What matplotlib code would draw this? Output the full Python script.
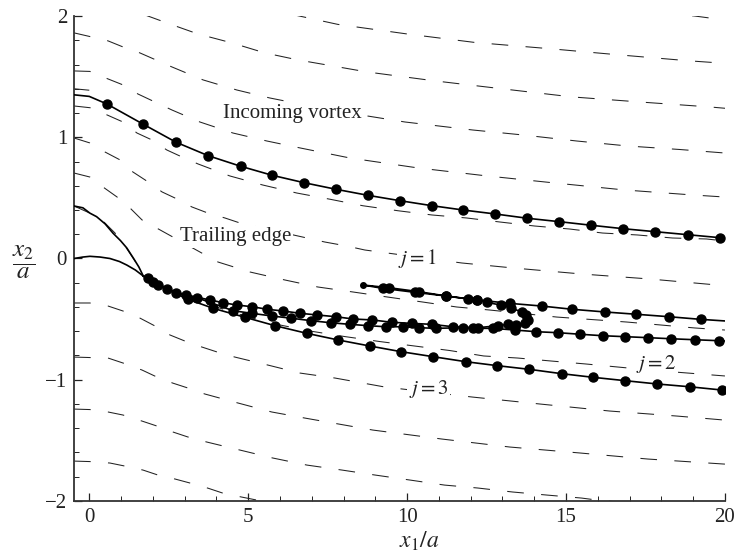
import matplotlib.pyplot as plt
from matplotlib.ticker import MultipleLocator

plt.rcParams['font.family'] = ['Liberation Serif', 'DejaVu Serif']
plt.rcParams['mathtext.fontset'] = 'stix'
plt.rcParams['lines.scale_dashes'] = False

# dashed streamlines (x1/a, x2/a)
s01_x = [17.9, 19.05, 20.05]
s01_y = [2.03, 2.0, 1.965]
s02_x = [6.31, 7.82, 10.0, 12.13, 14.55, 16.69, 18.89, 20.05]
s02_y = [2.017, 1.931, 1.852, 1.782, 1.729, 1.679, 1.630, 1.609]
s03_x = [1.75, 2.44, 3.42, 4.49, 5.52, 6.56, 7.66, 8.73, 10.87, 13.01, 15.18, 17.32, 19.52, 20.05]
s03_y = [2.009, 1.943, 1.852, 1.778, 1.696, 1.638, 1.588, 1.539, 1.465, 1.399, 1.333, 1.291, 1.250, 1.238]
s04_x = [-0.48, 0.08, 0.59, 1.06, 1.59, 2.60, 3.58, 4.64, 5.68, 7.57, 9.93, 12.06, 13.64, 15.34, 16.94, 18.58, 20.0]
s04_y = [1.861, 1.827, 1.795, 1.745, 1.696, 1.580, 1.473, 1.390, 1.324, 1.225, 1.126, 1.060, 1.019, 0.969, 0.928, 0.899, 0.870]
s05_x = [-0.48, 0.02, 0.59, 1.06, 1.53, 2.00, 2.60, 3.48, 4.52, 5.59, 6.63, 8.20, 10.34, 12.51, 14.64, 16.85, 18.98, 20.0]
s05_y = [1.547, 1.543, 1.481, 1.432, 1.357, 1.299, 1.225, 1.126, 1.035, 0.969, 0.912, 0.829, 0.747, 0.681, 0.623, 0.565, 0.524, 0.507]
s06_x = [-0.48, 0.0]
s06_y = [1.40, 1.388]
s07_x = [-0.48, 0.08, 0.56, 1.06, 1.50, 1.97, 2.44, 2.92, 3.42, 4.42, 5.46, 6.53, 7.57, 8.61, 9.71,
         10.78, 11.88, 12.92, 14.01, 15.12, 16.15, 17.25, 18.35, 19.42, 20.0]
s07_y = [1.258, 1.242, 1.184, 1.126, 1.035, 0.978, 0.895, 0.837, 0.780, 0.681, 0.606, 0.540, 0.489, 0.435, 0.394,
         0.359, 0.334, 0.301, 0.268, 0.243, 0.210, 0.194, 0.169, 0.161, 0.144]
s08_x = [-0.48, 0.02, 0.49, 0.97, 1.37, 1.85, 2.29, 2.76, 3.23, 3.73, 4.27, 4.74, 7.41, 8.10, 8.67,
         11.72, 13.33, 15.50, 17.63, 19.77, 20.15]
s08_y = [0.994, 0.953, 0.879, 0.813, 0.714, 0.632, 0.549, 0.491, 0.425, 0.375, 0.334, 0.293, 0.136, 0.103, 0.070,
         -0.037, -0.078, -0.128, -0.169, -0.219, -0.227]
s09_x = [-0.48, 0.02, 0.43, 0.87, 1.28, 1.66, 4.05, 5.05, 6.15, 7.19, 8.29, 9.39, 10.49, 11.56, 12.60,
         14.71, 16.91, 19.05, 20.0]
s09_y = [0.705, 0.672, 0.590, 0.508, 0.417, 0.318, -0.029, -0.111, -0.177, -0.235, -0.276, -0.318, -0.359, -0.400, -0.425,
         -0.483, -0.524, -0.573, -0.590]
s10_x = [-0.48, 0.02, 0.43, 0.81, 1.19, 1.50, 1.91, 2.70, 3.80, 4.90, 5.84, 6.94, 8.04, 9.14, 10.24,
         11.34, 12.41, 13.48, 14.55, 15.62, 17.63, 20.0]
s10_y = [0.433, 0.374, 0.309, 0.210, 0.078, -0.045, -0.169, -0.276, -0.384, -0.474, -0.540, -0.598, -0.644, -0.685, -0.722,
         -0.759, -0.804, -0.821, -0.846, -0.870, -0.920, -0.969]
s11_x = [-0.48, 0.02, 0.59, 1.06, 1.59, 2.07, 2.54, 3.01, 3.54, 4.02, 4.58, 5.62, 6.63, 7.73, 9.30,
         12.06, 14.17, 16.37, 18.51, 20.0]
s11_y = [-0.367, -0.367, -0.392, -0.433, -0.491, -0.557, -0.631, -0.681, -0.730, -0.771, -0.813, -0.879, -0.945, -0.986, -1.060,
         -1.143, -1.200, -1.258, -1.300, -1.333]
s12_x = [-0.48, 0.02, 0.59, 1.06, 1.66, 2.13, 2.63, 3.10, 3.64, 4.68, 5.74, 6.78, 8.92, 11.09, 13.23, 15.43, 17.57, 20.0]
s12_y = [-0.813, -0.817, -0.821, -0.862, -0.920, -0.978, -1.028, -1.068, -1.118, -1.192, -1.266, -1.316, -1.415, -1.489,
         -1.555, -1.604, -1.654, -1.696]
s13_x = [-0.48, 0.02, 0.59, 1.06, 1.66, 2.13, 2.63, 3.10, 3.70, 4.74, 5.78, 6.85, 7.95, 8.99, 10.08, 11.18,
         12.22, 13.32, 14.39, 15.49, 15.96, 17.0]
s13_y = [-1.242, -1.246, -1.266, -1.291, -1.341, -1.382, -1.431, -1.472, -1.514, -1.580, -1.646, -1.704, -1.745, -1.786,
         -1.827, -1.869, -1.893, -1.926, -1.951, -1.976, -1.992, -2.017]
s14_x = [-0.48, 0.02, 0.65, 1.12, 1.69, 2.16, 2.70, 3.17, 3.73, 4.20, 4.80, 5.28, 5.84]
s14_y = [-1.671, -1.675, -1.687, -1.712, -1.745, -1.786, -1.819, -1.852, -1.894, -1.935, -1.968, -1.993, -2.026]

# trailing edge surfaces
te_up_x = [-0.48, -0.2, 0.02, 0.23, 0.5, 0.75, 0.98, 1.18, 1.39, 1.56, 1.70]
te_up_y = [0.433, 0.418, 0.374, 0.345, 0.285, 0.208, 0.148, 0.087, 0.002, -0.07, -0.145]
te_lo_x = [-0.48, -0.2, 0.02, 0.34, 0.65, 0.95, 1.18, 1.45, 1.70]
te_lo_y = [0.0, 0.012, 0.018, 0.012, 0.0, -0.025, -0.054, -0.095, -0.145]
tip = (1.70, -0.145)

# incoming vortex path: start of curve, dots, end of curve
vort_start_x = [-0.48, 0.0]
vort_start_y = [1.35, 1.337]
vort_x = [0.55, 1.68, 2.73, 3.74, 4.76, 5.76, 6.76, 7.76, 8.77, 9.77, 10.77, 11.76, 12.78, 13.78,
          14.78, 15.80, 16.79, 17.81, 18.84, 19.83]
vort_y = [1.275, 1.110, 0.959, 0.848, 0.761, 0.686, 0.625, 0.571, 0.521, 0.477, 0.436, 0.400, 0.367, 0.332,
          0.304, 0.274, 0.246, 0.221, 0.196, 0.172]
vort_end = (20.0, 0.168)

# shed vortex paths j = 1, 2, 3
j1_x = [1.86, 2.43, 3.04, 3.80, 4.21, 4.65, 5.13, 5.60, 6.10, 6.63, 7.18, 7.75, 8.30, 8.91, 9.51, 10.14,
        10.77, 11.45, 12.23, 12.86, 13.18, 13.44, 13.70, 13.81, 13.75, 13.60, 13.28, 12.94, 12.50, 12.21,
        11.92, 11.22, 10.38, 9.43, 8.62, 9.23, 10.24, 11.22, 12.21, 13.23, 14.23, 15.20, 16.22, 17.21,
        18.23, 19.24]
j1_y = [-0.163, -0.254, -0.301, -0.342, -0.365, -0.384, -0.398, -0.419, -0.433, -0.452, -0.466, -0.480,
        -0.499, -0.507, -0.526, -0.535, -0.543, -0.563, -0.571, -0.554, -0.543, -0.545, -0.535, -0.507,
        -0.466, -0.439, -0.411, -0.384, -0.361, -0.342, -0.334, -0.309, -0.274, -0.241, -0.219, -0.246,
        -0.279, -0.309, -0.342, -0.370, -0.392, -0.419, -0.441, -0.460, -0.480, -0.502]
j1_turn_x = 8.62
j1_end = (20.05, -0.516)
j2_x = [2.01, 2.73, 3.38, 4.53, 5.11, 5.74, 6.36, 6.99, 7.59, 8.20, 8.77, 9.33, 9.87, 10.38, 10.90,
        11.76, 12.08, 12.70, 13.39, 14.07, 14.75, 15.45, 16.16, 16.87, 17.58, 18.31, 19.05, 19.80]
j2_y = [-0.191, -0.282, -0.323, -0.431, -0.452, -0.474, -0.493, -0.513, -0.530, -0.543, -0.554, -0.563,
        -0.563, -0.571, -0.576, -0.571, -0.576, -0.576, -0.590, -0.604, -0.612, -0.625, -0.637, -0.645,
        -0.653, -0.662, -0.670, -0.678]
j2_end = (20.05, -0.681)
j3_x = [2.17, 3.11, 3.90, 4.90, 5.84, 6.84, 7.83, 8.83, 9.82, 10.82, 11.84, 12.84, 13.84, 14.86, 15.85,
        16.87, 17.87, 18.89, 19.91]
j3_y = [-0.219, -0.337, -0.411, -0.485, -0.554, -0.617, -0.672, -0.722, -0.769, -0.810, -0.851, -0.884,
        -0.914, -0.950, -0.980, -1.008, -1.035, -1.058, -1.085]
j3_end = (20.0, -1.09)

streams = [(s01_x, s01_y), (s02_x, s02_y), (s03_x, s03_y), (s04_x, s04_y), (s05_x, s05_y),
           (s06_x, s06_y), (s07_x, s07_y), (s08_x, s08_y), (s09_x, s09_y), (s10_x, s10_y),
           (s11_x, s11_y), (s12_x, s12_y), (s13_x, s13_y), (s14_x, s14_y)]

fig = plt.figure(figsize=(7.38, 5.6), dpi=100)
ax = fig.add_axes([0.1003, 0.1054, 0.882, 0.866])

for sx, sy in streams:
    ax.plot(sx, sy, color='#222222', lw=0.75, linestyle=(0, (12, 12.5)), zorder=2)

ax.plot(te_up_x, te_up_y, color='black', lw=1.2, zorder=4)
ax.plot(te_lo_x, te_lo_y, color='black', lw=1.2, zorder=4)


# helper: line from a start through the dots to an end
def plotpath(xs, ys, x0, y0, x1, y1):
    px = list(x0) + list(xs) + list(x1)
    py = list(y0) + list(ys) + list(y1)
    ax.plot(px, py, color='black', lw=1.2, zorder=4)


plotpath(vort_x, vort_y, vort_start_x, vort_start_y, [vort_end[0]], [vort_end[1]])
plotpath(j1_x, j1_y, [tip[0]], [tip[1]], [j1_end[0]], [j1_end[1]])
plotpath(j2_x, j2_y, [tip[0]], [tip[1]], [j2_end[0]], [j2_end[1]])
plotpath(j3_x, j3_y, [tip[0]], [tip[1]], [j3_end[0]], [j3_end[1]])

big_x = vort_x + [x for x in j1_x if x != j1_turn_x] + j2_x + j3_x
big_y = vort_y + [y for x, y in zip(j1_x, j1_y) if x != j1_turn_x] + j2_y + j3_y
ax.plot(big_x, big_y, 'o', color='black', ms=6.5, zorder=5)
ax.plot([x for x in j1_x if x == j1_turn_x], [y for x, y in zip(j1_x, j1_y) if x == j1_turn_x],
        'o', color='black', ms=4, zorder=5)

# labels on the picture
box = dict(facecolor='white', edgecolor='none', pad=1.0)
ax.text(4.2, 1.2, 'Incoming vortex', fontsize=15, ha='left', va='center', color='#222222', bbox=box, zorder=3)
ax.text(2.85, 0.18, 'Trailing edge', fontsize=15, ha='left', va='center', color='#222222', bbox=box, zorder=3)
ax.text(9.72, 0.0, r'$j=1$', fontsize=15, ha='left', va='center', color='#222222', bbox=box, zorder=3)
ax.text(17.2, -0.87, r'$j=2$', fontsize=15, ha='left', va='center', color='#222222', bbox=box, zorder=3)
ax.text(10.05, -1.077, r'$j=3$', fontsize=15, ha='left', va='center', color='#222222', bbox=box, zorder=3)

ax.set_xlim(-0.48, 20)
ax.set_ylim(-2, 2)
ax.set_xticks([0, 5, 10, 15, 20])
ax.set_yticks([-2, -1, 0, 1, 2])
ax.xaxis.set_minor_locator(MultipleLocator(1))
ax.yaxis.set_minor_locator(MultipleLocator(0.2))
ax.tick_params(which='both', direction='in', top=False, right=False, labelsize=15, colors='#222222')
ax.tick_params(which='major', length=6, width=0.9, pad=5)
ax.tick_params(which='minor', length=3.5, width=0.7)
for side in ['top', 'right']:
    ax.spines[side].set_visible(False)
for side in ['left', 'bottom']:
    ax.spines[side].set_linewidth(1.3)
    ax.spines[side].set_color('#333333')

fig.text(0.032, 0.532, r'$\dfrac{x_2}{a}$', fontsize=18, ha='center', va='center', color='#222222')
fig.text(0.568, 0.034, r'$x_1/a$', fontsize=17, ha='center', va='center', color='#222222')

fig.savefig('out.png', dpi=100)
